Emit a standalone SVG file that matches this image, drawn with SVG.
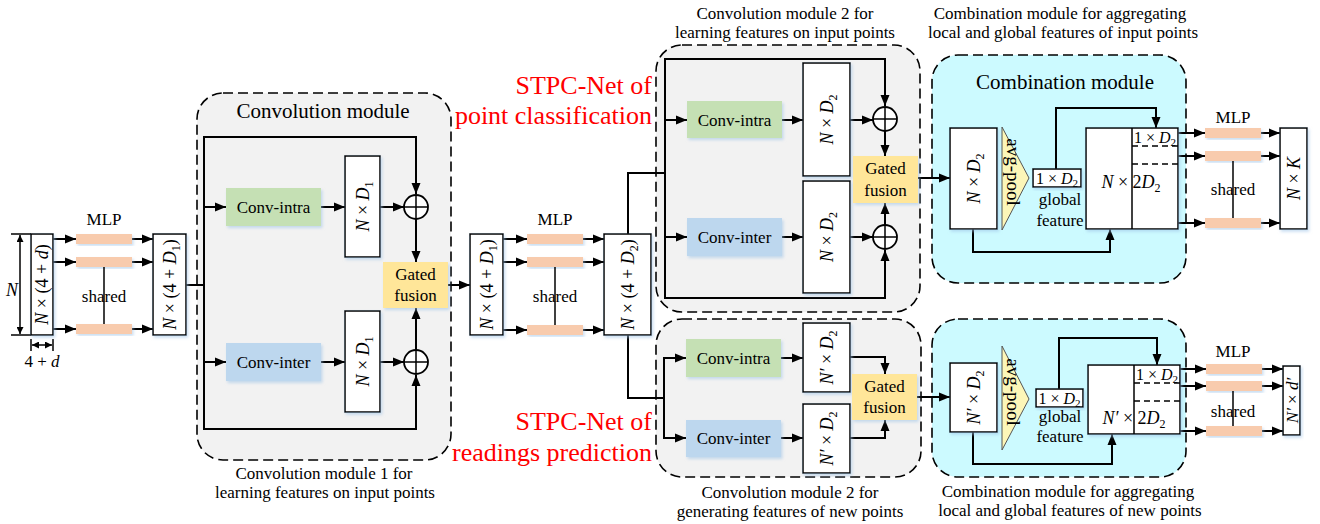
<svg xmlns="http://www.w3.org/2000/svg" width="1320" height="524" viewBox="0 0 1320 524" font-family="'Liberation Serif', Tinos, 'DejaVu Serif', serif">
<defs>
<marker id="ah" markerWidth="12" markerHeight="10" refX="11" refY="5" orient="auto" markerUnits="userSpaceOnUse"><path d="M0,0.5 L11,5 L0,9.5 Z" fill="#000"/></marker>
<marker id="ahs" markerWidth="8" markerHeight="7" refX="7" refY="3.5" orient="auto-start-reverse" markerUnits="userSpaceOnUse"><path d="M0,0 L7,3.5 L0,7 Z" fill="#000"/></marker>
<filter id="sh" x="-20%" y="-20%" width="140%" height="140%"><feDropShadow dx="1.5" dy="2" stdDeviation="1.5" flood-color="#9DC3E6" flood-opacity="0.55"/></filter>
</defs>
<style>
text{font-family:"Liberation Serif",Tinos,"DejaVu Serif",serif}
.t{fill:#000}
.c{text-anchor:middle}
.f17{font-size:17px}
.f18{font-size:18px}
.f16{font-size:16px}
.i{font-style:italic}
.red{fill:#FF0000;font-size:26px;text-anchor:end}
.box{fill:#fff;stroke:#000;stroke-width:1.5;filter:url(#sh)}
.mod{fill:#F2F2F2;stroke:#000;stroke-width:1.6;stroke-dasharray:10 5}
.modc{fill:#CCFAFF;stroke:#000;stroke-width:1.6;stroke-dasharray:10 5}
.bar{fill:#F8CBAD;filter:url(#sh)}
.green{fill:#C5E0B4;filter:url(#sh)}
.blue{fill:#BDD7EE;filter:url(#sh)}
.yel{fill:#FFE699;filter:url(#sh)}
.tri{fill:#FCF6B8;stroke:#555;stroke-width:1}
.ln{fill:none;stroke:#000;stroke-width:2}
.th{fill:none;stroke:#000;stroke-width:1.5}
.dl{fill:none;stroke:#000;stroke-width:1.5;stroke-dasharray:6 4}
.ar{fill:none;stroke:#000;stroke-width:2;marker-end:url(#ah)}
.plus{fill:#fff;stroke:#000;stroke-width:1.8}
</style>
<rect width="1320" height="524" fill="#fff"/>

<g id="conv-module-1">
<rect class="mod" x="197" y="93" width="254" height="367" rx="26"/>
<text class="t c" x="323" y="118" font-size="21">Convolution module</text>
<text class="t c f17" x="324" y="479">Convolution module 1 for</text>
<text class="t c f17" x="325" y="498">learning features on input points</text>
</g>
<g id="conv-module-2a">
<rect class="mod" x="656" y="45" width="264" height="267" rx="26"/>
<text class="t c f17" x="785" y="19">Convolution module 2 for</text>
<text class="t c f17" x="785" y="38">learning features on input points</text>
</g>
<g id="conv-module-2b">
<rect class="mod" x="656" y="319" width="265" height="158" rx="26"/>
<text class="t c f17" x="790" y="498">Convolution module 2 for</text>
<text class="t c f17" x="790" y="517">generating features of new points</text>
</g>
<g id="comb-module-1">
<rect class="modc" x="932" y="55" width="254" height="228" rx="26"/>
<text class="t c" x="1065" y="89" font-size="21">Combination module</text>
<text class="t c f17" x="1060" y="19">Combination module for aggregating</text>
<text class="t c f17" x="1063" y="38">local and global features of input points</text>
</g>
<g id="comb-module-2">
<rect class="modc" x="932" y="319" width="254" height="158" rx="26"/>
<text class="t c f17" x="1068" y="497">Combination module for aggregating</text>
<text class="t c f17" x="1070" y="516">local and global features of new points</text>
</g>

<g id="labels-red">
<text class="t red" x="652" y="94">STPC-Net of</text>
<text class="t red" x="652" y="124">point classification</text>
<text class="t red" x="652" y="430">STPC-Net of</text>
<text class="t red" x="652" y="461">readings prediction</text>
</g>

<g id="connectors">
<line class="th" x1="11" y1="234" x2="31" y2="234"/>
<line class="th" x1="11" y1="335" x2="31" y2="335"/>
<line x1="20" y1="235" x2="20" y2="334" stroke="#000" stroke-width="1.5" marker-start="url(#ahs)" marker-end="url(#ahs)"/>
<line class="th" x1="31" y1="339" x2="31" y2="351"/>
<line class="th" x1="53" y1="339" x2="53" y2="351"/>
<line x1="32" y1="345" x2="52" y2="345" stroke="#000" stroke-width="1.5" marker-start="url(#ahs)" marker-end="url(#ahs)"/>
<line class="ar" x1="53" y1="239" x2="76" y2="239"/>
<line class="ar" x1="53" y1="262" x2="76" y2="262"/>
<line class="ar" x1="53" y1="329" x2="76" y2="329"/>
<line class="ar" x1="132" y1="239" x2="153" y2="239"/>
<line class="ar" x1="132" y1="262" x2="153" y2="262"/>
<line class="ar" x1="132" y1="329" x2="153" y2="329"/>
<line class="ln" x1="186" y1="285" x2="204" y2="285"/>
<path class="ar" d="M204,285 L204,137 L416,137 L416,194"/>
<path class="ar" d="M204,285 L204,429 L416,429 L416,375"/>
<line class="ar" x1="204" y1="207" x2="226" y2="207"/>
<line class="ar" x1="204" y1="362" x2="226" y2="362"/>
<line class="ar" x1="321" y1="207" x2="345" y2="207"/>
<line class="ar" x1="321" y1="362" x2="345" y2="362"/>
<line class="ar" x1="380" y1="207" x2="404" y2="207"/>
<line class="ar" x1="380" y1="362" x2="404" y2="362"/>
<line class="ar" x1="416" y1="219" x2="416" y2="262"/>
<line class="ar" x1="416" y1="350" x2="416" y2="308"/>
<line class="ar" x1="448" y1="285" x2="470" y2="285"/>
<line class="ar" x1="503" y1="239" x2="527" y2="239"/>
<line class="ar" x1="503" y1="262" x2="527" y2="262"/>
<line class="ar" x1="503" y1="330" x2="527" y2="330"/>
<line class="ar" x1="583" y1="239" x2="604" y2="239"/>
<line class="ar" x1="583" y1="262" x2="604" y2="262"/>
<line class="ar" x1="583" y1="330" x2="604" y2="330"/>
<path class="ln" d="M628,234 L628,173 L665,173"/>
<path class="ln" d="M628,335 L628,398 L664,398"/>
<path class="ar" d="M665,173 L665,59 L885,59 L885,106"/>
<path class="ar" d="M665,173 L665,298 L885,298 L885,250"/>
<line class="ar" x1="665" y1="120" x2="687" y2="120"/>
<line class="ar" x1="665" y1="237" x2="687" y2="237"/>
<line class="ar" x1="782" y1="120" x2="803" y2="120"/>
<line class="ar" x1="782" y1="237" x2="803" y2="237"/>
<line class="ar" x1="850" y1="120" x2="873" y2="120"/>
<line class="ar" x1="850" y1="237" x2="873" y2="237"/>
<line class="ar" x1="885" y1="131" x2="885" y2="156"/>
<line class="ar" x1="885" y1="225" x2="885" y2="203"/>
<line class="ar" x1="918" y1="178" x2="950" y2="178"/>
<path class="ar" d="M664,398 L664,358 L686,358"/>
<path class="ar" d="M664,398 L664,438 L686,438"/>
<line class="ar" x1="781" y1="358" x2="803" y2="358"/>
<line class="ar" x1="781" y1="438" x2="803" y2="438"/>
<path class="ar" d="M850,357 L885,357 L885,374"/>
<path class="ar" d="M850,438 L885,438 L885,420"/>
<line class="ar" x1="917" y1="397" x2="950" y2="397"/>
<path class="ar" d="M1056,169 L1056,108 L1156,108 L1156,128"/>
<path class="ar" d="M973,229 L973,252 L1110,252 L1110,229"/>
<line class="ar" x1="1178" y1="133" x2="1205" y2="133"/>
<line class="ar" x1="1178" y1="156" x2="1205" y2="156"/>
<line class="ar" x1="1178" y1="223" x2="1205" y2="223"/>
<line class="ar" x1="1261" y1="133" x2="1280" y2="133"/>
<line class="ar" x1="1261" y1="156" x2="1280" y2="156"/>
<line class="ar" x1="1261" y1="223" x2="1280" y2="223"/>
<path class="ar" d="M1059,389 L1059,338 L1157,338 L1157,365"/>
<path class="ar" d="M973,432 L973,464 L1112,464 L1112,434"/>
<line class="ar" x1="1180" y1="369" x2="1206" y2="369"/>
<line class="ar" x1="1180" y1="386" x2="1206" y2="386"/>
<line class="ar" x1="1180" y1="431" x2="1206" y2="431"/>
<line class="ar" x1="1262" y1="369" x2="1283" y2="369"/>
<line class="ar" x1="1262" y1="386" x2="1283" y2="386"/>
<line class="ar" x1="1262" y1="431" x2="1283" y2="431"/>
</g>

<g id="input-box">
<rect class="box" x="31" y="234" width="22" height="101"/>
<text class="t c f18" transform="translate(42,284.5) rotate(-90)" y="6"><tspan class="i">N</tspan> × (4 + <tspan class="i">d</tspan>)</text>
<text class="t c f18 i" x="12" y="296">N</text>
<text class="t c f17" x="42" y="367">4 + <tspan class="i">d</tspan></text>
</g>
<g id="mlp-1">
<rect class="bar" x="76" y="234" width="56" height="10"/>
<rect class="bar" x="76" y="257" width="56" height="10"/>
<rect class="bar" x="76" y="324" width="56" height="10"/>
<line class="th" x1="104" y1="267" x2="104" y2="324"/>
<text class="t c f17" x="104" y="225">MLP</text>
<text class="t c f17" x="104" y="302">shared</text>
</g>
<g id="box-2">
<rect class="box" x="153" y="234" width="33" height="101"/>
<text class="t c f18" transform="translate(169.5,284.5) rotate(-90)" y="6"><tspan class="i">N</tspan> × (4 + <tspan class="i">D</tspan><tspan font-size="12" dy="4">1</tspan><tspan dy="-4">)</tspan></text>
</g>
<g id="conv1-intra">
<rect class="green" x="226" y="188" width="95" height="38"/>
<text class="t c f17" x="273.5" y="213">Conv-intra</text>
</g>
<g id="conv1-inter">
<rect class="blue" x="226" y="343" width="95" height="38"/>
<text class="t c f17" x="273.5" y="368">Conv-inter</text>
</g>
<g id="nd1-top">
<rect class="box" x="345" y="156" width="35" height="101"/>
<text class="t c f18" transform="translate(362.5,206.5) rotate(-90)" y="6"><tspan class="i">N</tspan> × <tspan class="i">D</tspan><tspan font-size="12" dy="4">1</tspan></text>
</g>
<g id="nd1-bottom">
<rect class="box" x="345" y="311" width="35" height="101"/>
<text class="t c f18" transform="translate(362.5,361.5) rotate(-90)" y="6"><tspan class="i">N</tspan> × <tspan class="i">D</tspan><tspan font-size="12" dy="4">1</tspan></text>
</g>
<g id="plus-1"><circle class="plus" cx="416" cy="207" r="12"/><path class="th" d="M404,207 H428 M416,195 V219"/></g>
<g id="plus-2"><circle class="plus" cx="416" cy="362" r="12"/><path class="th" d="M404,362 H428 M416,350 V374"/></g>
<g id="gated-1">
<rect class="yel" x="383" y="262" width="65" height="46"/>
<text class="t c f17" x="415.5" y="280">Gated</text>
<text class="t c f17" x="415.5" y="301">fusion</text>
</g>
<g id="box-3">
<rect class="box" x="470" y="234" width="33" height="101"/>
<text class="t c f18" transform="translate(486.5,284.5) rotate(-90)" y="6"><tspan class="i">N</tspan> × (4 + <tspan class="i">D</tspan><tspan font-size="12" dy="4">1</tspan><tspan dy="-4">)</tspan></text>
</g>
<g id="mlp-2">
<rect class="bar" x="527" y="234" width="56" height="10"/>
<rect class="bar" x="527" y="257" width="56" height="10"/>
<rect class="bar" x="527" y="325" width="56" height="10"/>
<line class="th" x1="555" y1="267" x2="555" y2="325"/>
<text class="t c f17" x="555" y="225">MLP</text>
<text class="t c f17" x="555" y="302">shared</text>
</g>
<g id="box-4">
<rect class="box" x="604" y="234" width="47" height="101"/>
<text class="t c f18" transform="translate(627.5,284.5) rotate(-90)" y="6"><tspan class="i">N</tspan> × (4 + <tspan class="i">D</tspan><tspan font-size="12" dy="4">2</tspan><tspan dy="-4">)</tspan></text>
</g>

<g id="conv2a-intra">
<rect class="green" x="687" y="101" width="95" height="37"/>
<text class="t c f17" x="734.5" y="125.5">Conv-intra</text>
</g>
<g id="conv2a-inter">
<rect class="blue" x="687" y="218" width="95" height="38"/>
<text class="t c f17" x="734.5" y="243">Conv-inter</text>
</g>
<g id="nd2-top">
<rect class="box" x="803" y="63" width="47" height="113"/>
<text class="t c f18" transform="translate(826.5,119.5) rotate(-90)" y="6"><tspan class="i">N</tspan> × <tspan class="i">D</tspan><tspan font-size="12" dy="4">2</tspan></text>
</g>
<g id="nd2-bottom">
<rect class="box" x="803" y="181" width="47" height="112"/>
<text class="t c f18" transform="translate(826.5,237) rotate(-90)" y="6"><tspan class="i">N</tspan> × <tspan class="i">D</tspan><tspan font-size="12" dy="4">2</tspan></text>
</g>
<g id="plus-3"><circle class="plus" cx="885" cy="119" r="12"/><path class="th" d="M873,119 H897 M885,107 V131"/></g>
<g id="plus-4"><circle class="plus" cx="885" cy="237" r="12"/><path class="th" d="M873,237 H897 M885,225 V249"/></g>
<g id="gated-2">
<rect class="yel" x="853" y="156" width="65" height="47"/>
<text class="t c f17" x="885.5" y="174">Gated</text>
<text class="t c f17" x="885.5" y="196">fusion</text>
</g>

<g id="conv2b-intra">
<rect class="green" x="686" y="339" width="95" height="38"/>
<text class="t c f17" x="733.5" y="364">Conv-intra</text>
</g>
<g id="conv2b-inter">
<rect class="blue" x="686" y="420" width="95" height="37"/>
<text class="t c f17" x="733.5" y="444">Conv-inter</text>
</g>
<g id="npd2-top">
<rect class="box" x="803" y="323" width="47" height="69"/>
<text class="t c f18" transform="translate(826.5,357.5) rotate(-90)" y="6"><tspan class="i">N′</tspan> × <tspan class="i">D</tspan><tspan font-size="12" dy="4">2</tspan></text>
</g>
<g id="npd2-bottom">
<rect class="box" x="803" y="404" width="47" height="69"/>
<text class="t c f18" transform="translate(826.5,438.5) rotate(-90)" y="6"><tspan class="i">N′</tspan> × <tspan class="i">D</tspan><tspan font-size="12" dy="4">2</tspan></text>
</g>
<g id="gated-3">
<rect class="yel" x="852" y="374" width="65" height="46"/>
<text class="t c f17" x="884.5" y="392">Gated</text>
<text class="t c f17" x="884.5" y="413">fusion</text>
</g>

<g id="comb1-nd2">
<rect class="box" x="950" y="128" width="47" height="101"/>
<text class="t c f18" transform="translate(973.5,178.5) rotate(-90)" y="6"><tspan class="i">N</tspan> × <tspan class="i">D</tspan><tspan font-size="12" dy="4">2</tspan></text>
</g>
<g id="comb1-avgpool">
<polygon class="tri" points="1002,127 1029,178 1002,230"/>
<text class="t c" font-size="19" transform="translate(1012,172) rotate(90)" y="5">avg-pool</text>
</g>
<g id="comb1-global">
<rect class="box" x="1033" y="169" width="48" height="18"/>
<text class="t c f16" x="1057" y="184">1 × <tspan class="i">D</tspan><tspan font-size="11" dy="3">2</tspan></text>
<text class="t c f17" x="1060" y="205">global</text>
<text class="t c f17" x="1060" y="226">feature</text>
</g>
<g id="comb1-concat">
<rect class="box" x="1086" y="128" width="92" height="101"/>
<line class="th" x1="1132" y1="128" x2="1132" y2="229"/>
<line class="dl" x1="1132" y1="146" x2="1178" y2="146"/>
<line class="dl" x1="1132" y1="164" x2="1178" y2="164"/>
<text class="t c f16" x="1155" y="143">1 × <tspan class="i">D</tspan><tspan font-size="11" dy="3">2</tspan></text>
<text class="t c f18" x="1131" y="188"><tspan class="i">N</tspan> × 2<tspan class="i">D</tspan><tspan font-size="12" dy="4">2</tspan></text>
</g>
<g id="mlp-3">
<rect class="bar" x="1205" y="128" width="56" height="10"/>
<rect class="bar" x="1205" y="151" width="56" height="10"/>
<rect class="bar" x="1205" y="218" width="56" height="10"/>
<line class="th" x1="1233" y1="161" x2="1233" y2="218"/>
<text class="t c f17" x="1233" y="123">MLP</text>
<text class="t c f17" x="1233" y="195">shared</text>
</g>
<g id="out-1">
<rect class="box" x="1280" y="128" width="27" height="101"/>
<text class="t c f18" transform="translate(1293.5,178.5) rotate(-90)" y="6"><tspan class="i">N</tspan> × <tspan class="i">K</tspan></text>
</g>

<g id="comb2-nd2">
<rect class="box" x="950" y="363" width="47" height="69"/>
<text class="t c f18" transform="translate(973.5,397.5) rotate(-90)" y="6"><tspan class="i">N′</tspan> × <tspan class="i">D</tspan><tspan font-size="12" dy="4">2</tspan></text>
</g>
<g id="comb2-avgpool">
<polygon class="tri" points="1002,346 1029,399 1002,450"/>
<text class="t c" font-size="19" transform="translate(1012,392) rotate(90)" y="5">avg-pool</text>
</g>
<g id="comb2-global">
<rect class="box" x="1036" y="389" width="47" height="18"/>
<text class="t c f16" x="1059.5" y="404">1 × <tspan class="i">D</tspan><tspan font-size="11" dy="3">2</tspan></text>
<text class="t c f17" x="1060" y="422">global</text>
<text class="t c f17" x="1060" y="442">feature</text>
</g>
<g id="comb2-concat">
<rect class="box" x="1088" y="365" width="92" height="69"/>
<line class="th" x1="1134" y1="365" x2="1134" y2="434"/>
<line class="dl" x1="1134" y1="383" x2="1180" y2="383"/>
<line class="dl" x1="1134" y1="401" x2="1180" y2="401"/>
<text class="t c f16" x="1157" y="380">1 × <tspan class="i">D</tspan><tspan font-size="11" dy="3">2</tspan></text>
<text class="t c f18" x="1134" y="424"><tspan class="i">N′</tspan> × 2<tspan class="i">D</tspan><tspan font-size="12" dy="4">2</tspan></text>
</g>
<g id="mlp-4">
<rect class="bar" x="1206" y="364" width="56" height="10"/>
<rect class="bar" x="1206" y="381" width="56" height="10"/>
<rect class="bar" x="1206" y="426" width="56" height="10"/>
<line class="th" x1="1233" y1="391" x2="1233" y2="426"/>
<text class="t c f17" x="1233" y="357">MLP</text>
<text class="t c f17" x="1233" y="417">shared</text>
</g>
<g id="out-2">
<rect class="box" x="1283" y="366" width="17" height="69"/>
<text class="t c f17" transform="translate(1291.5,400.5) rotate(-90)" y="6"><tspan class="i">N′</tspan> × <tspan class="i">d′</tspan></text>
</g>
</svg>
